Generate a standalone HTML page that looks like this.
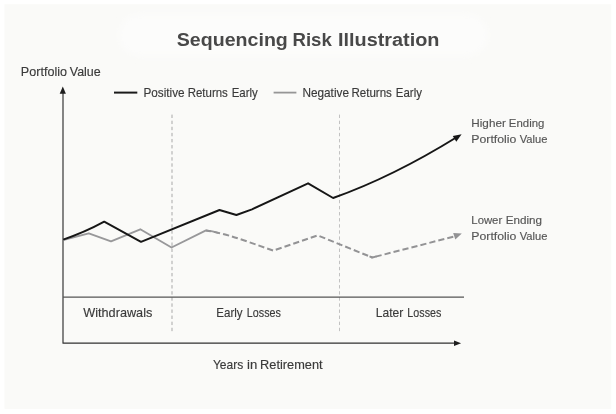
<!DOCTYPE html>
<html>
<head>
<meta charset="utf-8">
<title>Sequencing Risk Illustration</title>
<style>
html,body{margin:0;padding:0;background:#ffffff;}
body{width:616px;height:414px;overflow:hidden;position:relative;}
svg{position:absolute;left:0;top:0;display:block;}
text{font-family:"Liberation Sans",sans-serif;}
</style>
</head>
<body>
<svg width="616" height="414" viewBox="0 0 616 414">
  <rect x="4.5" y="4.2" width="606.8" height="404.7" fill="#fafaf8"/>
  <defs><filter id="soft" x="-10%" y="-30%" width="120%" height="160%"><feGaussianBlur stdDeviation="3"/></filter></defs>
  <rect x="119" y="14" width="369" height="42" rx="21" fill="#fcfcfb" filter="url(#soft)"/>
  <!-- legend swatches -->
  <line x1="114" y1="92.6" x2="137.3" y2="92.6" stroke="#1a1a1a" stroke-width="2"/>
  <line x1="273.6" y1="92.6" x2="296.4" y2="92.6" stroke="#969696" stroke-width="1.8"/>
  <!-- dotted verticals -->
  <line x1="172" y1="114.6" x2="172" y2="331.6" stroke="#a8a8a8" stroke-width="1" stroke-dasharray="3.4 2.69"/>
  <line x1="339.5" y1="114.6" x2="339.5" y2="331.6" stroke="#c2c2c2" stroke-width="1" stroke-dasharray="3.4 2.69"/>
  <!-- axes -->
  <path d="M63,92 L63,343.15 L455,343.15" fill="none" stroke="#303030" stroke-width="1.15" stroke-linejoin="round"/>
  <polygon points="62.8,86.6 59.7,93.8 65.9,93.8" fill="#1e1e1e"/>
  <polygon points="461.1,343.2 454,340.4 454,346" fill="#1e1e1e"/>
  <line x1="63" y1="297.2" x2="464" y2="297.2" stroke="#555555" stroke-width="1.2"/>
  <!-- gray series -->
  <polyline points="63,240 88.8,233.3 111,241.3 140.3,229.3 171.5,247.5 206,230.4 212.5,231.4 218.3,232.8" fill="none" stroke="#98989a" stroke-width="1.9" stroke-linejoin="round"/>
  <g fill="none" stroke="#939395" stroke-width="2" stroke-dasharray="6.2 3.05">
    <path d="M206,230.4 Q226,233.6 249.5,242.3 L273.4,250.6" stroke-dashoffset="0.9"/>
    <path d="M273.4,250.6 L317.7,235.4" stroke-dashoffset="-2.5"/>
    <path d="M317.7,235.4 L372.3,257.5" stroke-dashoffset="-1.9"/>
    <path d="M372.3,257.5 L455,236.3" stroke-dashoffset="-3.4"/>
    <path d="M369.5,256.4 L372.3,257.5 L376.6,256.4" stroke-dasharray="none" stroke-linejoin="round"/>
  </g>
  <polygon points="461.8,233.6 453.2,232.9 455.3,239.6" fill="#929294"/>
  <!-- black series -->
  <path d="M63.2,239.6 Q84.6,232.4 104.2,221.7 L141,241.8 L219.5,210 L236.4,215 L252,209.3 L308.1,183.3 L333.1,198 Q392.6,176.9 457,137" fill="none" stroke="#161616" stroke-width="1.95" stroke-linejoin="round"/>
  <polygon points="461.6,134.2 452.8,135.9 456.3,141.8" fill="#161616"/>
  <!-- labels -->
  <text y="45.8" font-size="17.6" font-weight="bold" fill="#484848"><tspan x="176.80" textLength="111.04" lengthAdjust="spacingAndGlyphs">Sequencing</tspan> <tspan x="292.53" textLength="39.31" lengthAdjust="spacingAndGlyphs">Risk</tspan> <tspan x="338.06" textLength="101.41" lengthAdjust="spacingAndGlyphs">Illustration</tspan></text>
  <text y="76.1" font-size="12.5" fill="#3a3a3a" stroke="#3a3a3a" stroke-width="0.15"><tspan x="20.82" textLength="46.19" lengthAdjust="spacingAndGlyphs">Portfolio</tspan> <tspan x="69.75" textLength="30.95" lengthAdjust="spacingAndGlyphs">Value</tspan></text>
  <text y="97.35" font-size="12.8" fill="#3a3a3a" stroke="#3a3a3a" stroke-width="0.15"><tspan x="143.44" textLength="41.19" lengthAdjust="spacingAndGlyphs">Positive</tspan> <tspan x="187.73" textLength="40.14" lengthAdjust="spacingAndGlyphs">Returns</tspan> <tspan x="231.63" textLength="26.14" lengthAdjust="spacingAndGlyphs">Early</tspan></text>
  <text y="97.35" font-size="12.8" fill="#3a3a3a" stroke="#3a3a3a" stroke-width="0.15"><tspan x="302.44" textLength="46.53" lengthAdjust="spacingAndGlyphs">Negative</tspan> <tspan x="351.44" textLength="40.46" lengthAdjust="spacingAndGlyphs">Returns</tspan> <tspan x="395.85" textLength="26.10" lengthAdjust="spacingAndGlyphs">Early</tspan></text>
  <text y="127.3" font-size="11.6" fill="#555555" stroke="#555555" stroke-width="0.15"><tspan x="471.33" textLength="34.46" lengthAdjust="spacingAndGlyphs">Higher</tspan> <tspan x="508.86" textLength="35.52" lengthAdjust="spacingAndGlyphs">Ending</tspan></text>
  <text y="142.9" font-size="11.6" fill="#555555" stroke="#555555" stroke-width="0.15"><tspan x="471.31" textLength="45.01" lengthAdjust="spacingAndGlyphs">Portfolio</tspan> <tspan x="519.67" textLength="27.67" lengthAdjust="spacingAndGlyphs">Value</tspan></text>
  <text y="224.1" font-size="11.6" fill="#555555" stroke="#555555" stroke-width="0.15"><tspan x="471.34" textLength="30.85" lengthAdjust="spacingAndGlyphs">Lower</tspan> <tspan x="505.73" textLength="36.33" lengthAdjust="spacingAndGlyphs">Ending</tspan></text>
  <text y="239.8" font-size="11.6" fill="#555555" stroke="#555555" stroke-width="0.15"><tspan x="471.31" textLength="45.01" lengthAdjust="spacingAndGlyphs">Portfolio</tspan> <tspan x="519.67" textLength="27.67" lengthAdjust="spacingAndGlyphs">Value</tspan></text>
  <text y="317.0" font-size="12.9" fill="#3a3a3a" stroke="#3a3a3a" stroke-width="0.15"><tspan x="83.21" textLength="69.13" lengthAdjust="spacingAndGlyphs">Withdrawals</tspan></text>
  <text y="317.0" font-size="12.9" fill="#3a3a3a" stroke="#3a3a3a" stroke-width="0.15"><tspan x="216.34" textLength="26.32" lengthAdjust="spacingAndGlyphs">Early</tspan> <tspan x="246.84" textLength="34.04" lengthAdjust="spacingAndGlyphs">Losses</tspan></text>
  <text y="317.0" font-size="12.9" fill="#3a3a3a" stroke="#3a3a3a" stroke-width="0.15"><tspan x="375.80" textLength="27.43" lengthAdjust="spacingAndGlyphs">Later</tspan> <tspan x="407.37" textLength="33.96" lengthAdjust="spacingAndGlyphs">Losses</tspan></text>
  <text y="368.7" font-size="13.4" fill="#3a3a3a" stroke="#3a3a3a" stroke-width="0.15"><tspan x="212.88" textLength="30.30" lengthAdjust="spacingAndGlyphs">Years</tspan> <tspan x="246.97" textLength="10.23" lengthAdjust="spacingAndGlyphs">in</tspan> <tspan x="260.11" textLength="62.51" lengthAdjust="spacingAndGlyphs">Retirement</tspan></text>
</svg>
</body>
</html>
